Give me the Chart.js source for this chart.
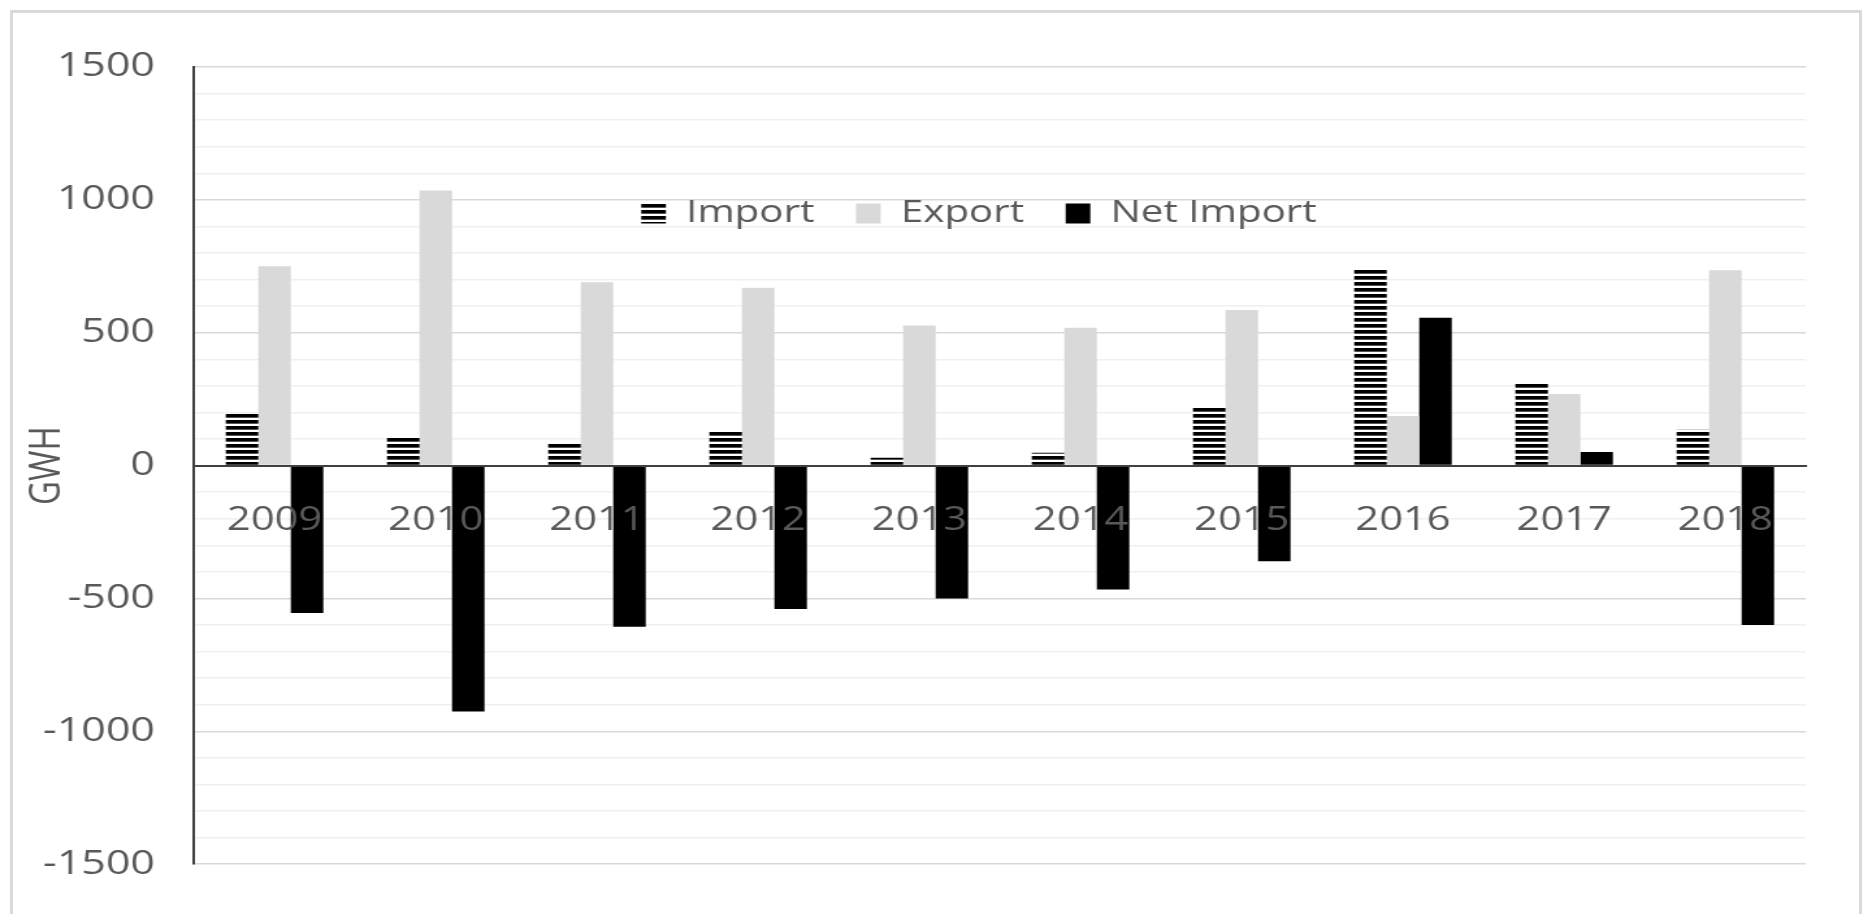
<!DOCTYPE html>
<html><head><meta charset="utf-8">
<script src="https://cdn.jsdelivr.net/npm/chart.js@4.4.1/dist/chart.umd.min.js"></script>
<style>
html,body{margin:0;padding:0;background:#fff;overflow:hidden;width:1863px;height:914px;}
#frame{position:absolute;left:10px;top:10px;width:1846px;height:1000px;border:3px solid #d9d9d9;box-sizing:content-box;}
#wrap{position:absolute;left:0;top:0;width:1433px;height:914px;transform:scaleX(1.3);transform-origin:0 0;}
</style></head><body>
<div id="frame"></div>
<div id="wrap"><canvas id="c"></canvas></div>
<script>
const years = ['2009','2010','2011','2012','2013','2014','2015','2016','2017','2018'];
const importValues = [195, 104, 83, 129, 30, 48, 224, 744, 315, 135];
const exportValues = [750, 1035, 690, 669, 527, 519, 586, 187, 269, 735];
const netImportValues = [-555, -925, -606, -540, -500, -466, -360, 556, 51, -600];
const majorTicks = [1500, 1000, 500, 0, -500, -1000, -1500];

const FONT = 'Open Sans';
const TEXT = '#595959';

const canvas = document.getElementById('c');
const ctx = canvas.getContext('2d');
function stripes(){
  const t = document.createElement('canvas');
  t.width = 8; t.height = 6;
  const g = t.getContext('2d');
  g.fillStyle = '#fff'; g.fillRect(0,0,8,6);
  g.fillStyle = '#000'; g.fillRect(0,0,8,3);
  g.fillStyle = '#555'; g.fillRect(0,3,8,1);
  return ctx.createPattern(t, 'repeat');
}
const importFill = stripes();

// places the built-in legend as one horizontal row inside the plot area
const legendPlacer = {
  id: 'legendPlacer',
  beforeUpdate(chart) {
    if (chart.legend) chart.legend.isHorizontal = () => true;
  },
  afterLayout(chart) {
    const l = chart.legend;
    if (!l) return;
    const cx = 753;
    l.left = cx - l.width / 2;
    l.right = cx + l.width / 2;
    l.top = 166;
    l.bottom = l.top + l.height;
  }
};

new Chart(ctx, {
  type: 'bar',
  data: {
    labels: years,
    datasets: [
      {label: 'Import', data: importValues, backgroundColor: importFill, borderWidth: 0},
      {label: 'Export', data: exportValues, backgroundColor: '#d9d9d9', borderWidth: 0},
      {label: 'Net Import', data: netImportValues, backgroundColor: '#000000', borderWidth: 0}
    ]
  },
  plugins: [legendPlacer],
  options: {
    responsive: true,
    maintainAspectRatio: false,
    animation: false,
    devicePixelRatio: 1,
    datasets: {bar: {categoryPercentage: 0.605, barPercentage: 1.0}},
    layout: {padding: {left: 0, right: 43.8, top: 67, bottom: 42}},
    plugins: {
      tooltip: {enabled: false},
      legend: {
        position: 'chartArea',
        align: 'center',
        labels: {
          boxWidth: 19, boxHeight: 20, padding: 32, color: TEXT,
          font: {family: FONT, size: 31}
        }
      }
    },
    scales: {
      x: {
        position: {y: 0},
        grid: {display: false, drawTicks: false},
        border: {display: true, color: '#404040', width: 2, z: 1},
        ticks: {z: 1, color: TEXT, font: {family: FONT, size: 32}, padding: 36, maxRotation: 0, autoSkip: false}
      },
      y: {
        min: -1500, max: 1500,
        afterFit: (axis) => { axis.width = 149.2; },
        grid: {
          drawTicks: false,
          lineWidth: 1.5,
          color: (c) => {
            const v = c.tick.value;
            if (v === 0) return '#404040';
            return majorTicks.includes(v) ? '#d9d9d9' : '#f0f0f0';
          }
        },
        border: {display: true, color: '#404040', width: 2},
        title: {display: true, text: 'GWH', color: TEXT, font: {family: FONT, size: 33}, padding: {top: 17, bottom: 0}},
        ticks: {
          stepSize: 100, autoSkip: false, padding: 30, color: TEXT,
          font: {family: FONT, size: 33},
          callback: (v) => majorTicks.includes(v) ? String(v) : ''
        }
      }
    }
  }
});
</script>
</body></html>
